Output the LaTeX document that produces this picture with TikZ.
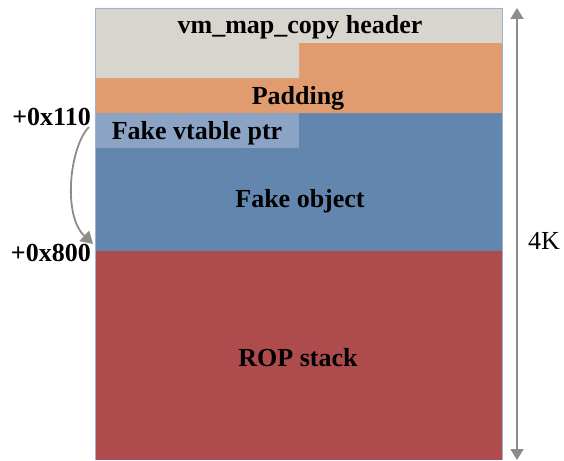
\documentclass[tikz,border=0pt]{standalone}
\usepackage{fontspec}
\setmainfont{Liberation Serif}
\usetikzlibrary{arrows.meta}
\definecolor{hdrgray}{HTML}{D8D5CE}
\definecolor{padorange}{HTML}{E09C6E}
\definecolor{vtblue}{HTML}{8BA4C5}
\definecolor{objblue}{HTML}{6286AE}
\definecolor{ropred}{HTML}{AD4B4D}
\definecolor{edgeblue}{HTML}{9DB3CF}
\definecolor{arrowgray}{HTML}{8E8C88}
\tikzset{
  lbl/.style={font=\bfseries\fontsize{26}{28}\selectfont, text=black, inner sep=0pt},
  offs/.style={font=\bfseries\fontsize{26}{28}\selectfont, text=black, inner sep=0pt, anchor=east},
  garrow/.style={draw=arrowgray, line width=1.8pt, -{Triangle[width=14pt,length=12pt]}},
}
\begin{document}
\begin{tikzpicture}[x=1pt,y=-1pt]
\useasboundingbox (0,0) rectangle (564,460);
% memory layout bands
\fill[ropred] (95,251) rectangle (502,460);
\fill[objblue] (95,113) rectangle (502,251);
\fill[vtblue] (95,113) rectangle (299,148);
\fill[padorange] (95,78) -- (299,78) -- (299,43) -- (502,43) -- (502,113) -- (95,113) -- cycle;
\fill[hdrgray] (95,8) -- (502,8) -- (502,43) -- (299,43) -- (299,78) -- (95,78) -- cycle;
\draw[edgeblue, line width=0.8pt] (95,460) -- (95,8) -- (502,8) -- (502,460);
% labels
\node[lbl] (hdr) at (300,27) {vm\_map\_copy header};
\node[lbl] (pad) at (298,98) {Padding};
\node[lbl] (vt) at (197,133) {Fake vtable ptr};
\node[lbl] (obj) at (300,201) {Fake object};
\node[lbl] (rop) at (298,358) {ROP stack};
\node[offs] (o110) at (91,117) {+0x110};
\node[offs] (o800) at (91,253) {+0x800};
\node[font=\fontsize{26}{28}\selectfont, inner sep=0pt] (size) at (544,241) {4K};
% size arrow
\coordinate (top) at (517,8);
\coordinate (bot) at (517,460);
\draw[garrow, {Triangle[width=13pt,length=11pt]}-{Triangle[width=13pt,length=11pt]}] (top) -- (bot);
% offset arrow
\coordinate (cs) at (89,127);
\coordinate (ce) at (93,244);
\draw[garrow] (cs) .. controls (70,146) and (62,215) .. (ce);
\end{tikzpicture}
\end{document}
